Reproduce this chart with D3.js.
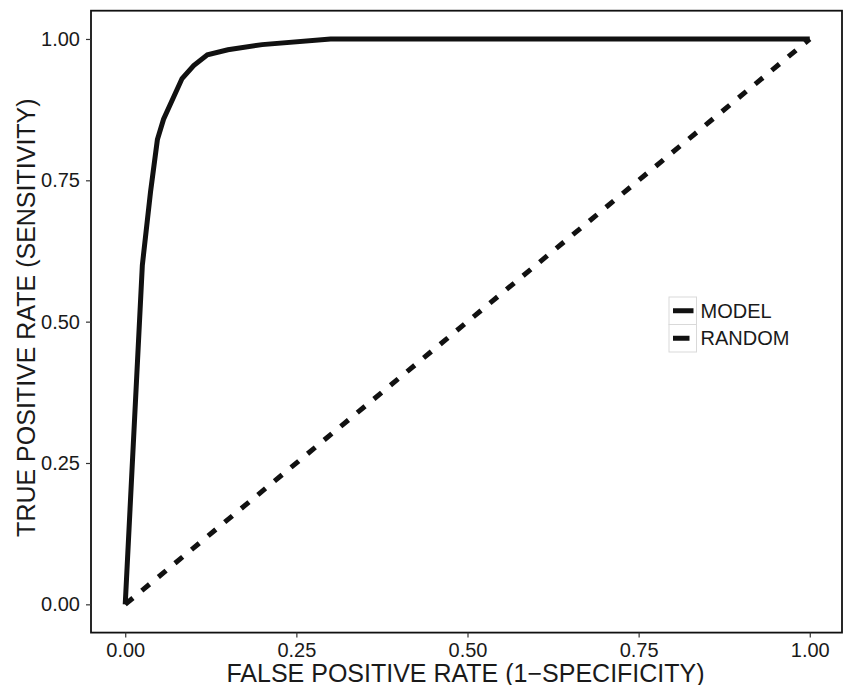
<!DOCTYPE html>
<html>
<head>
<meta charset="utf-8">
<script src="https://cdn.jsdelivr.net/npm/d3@7"></script>
<style>
  body { margin: 0; background: #fff; }
  text { font-family: "Liberation Sans", Arial, Helvetica, sans-serif; }
</style>
</head>
<body>
<div class="chart"></div>
<script>
// ROC curve
const modelFpr = [0, 0.025, 0.037, 0.047, 0.056, 0.083, 0.1, 0.12, 0.15, 0.2, 0.3, 1];
const modelTpr = [0, 0.6, 0.73, 0.822, 0.858, 0.93, 0.953, 0.972, 0.981, 0.99, 1, 1];
const randomFpr = [0, 1];
const randomTpr = [0, 1];
const tickValues = [0, 0.25, 0.5, 0.75, 1];
const seriesNames = ["MODEL", "RANDOM"];

const width = 843, height = 685;
const panel = { left: 91, right: 844, top: 10.7, bottom: 632.6 };

const svg = d3.select(".chart")
  .append("svg")
  .attr("width", width)
  .attr("height", height);

const x = d3.scaleLinear().domain([-0.05, 1.05]).range([panel.left, panel.right]);
const y = d3.scaleLinear().domain([-0.05, 1.05]).range([panel.bottom, panel.top]);

const line = d3.line().x(d => x(d[0])).y(d => y(d[1]));

const model = modelFpr.map((v, i) => [v, modelTpr[i]]);
const random = randomFpr.map((v, i) => [v, randomTpr[i]]);

// lines
svg.append("path")
  .datum(random)
  .attr("d", line)
  .attr("fill", "none")
  .attr("stroke", "#111")
  .attr("stroke-width", 5)
  .attr("stroke-dasharray", "10,11.5");

svg.append("path")
  .datum(model)
  .attr("d", line)
  .attr("fill", "none")
  .attr("stroke", "#111")
  .attr("stroke-width", 5)
  .attr("stroke-linejoin", "miter");

// panel border
svg.append("rect")
  .attr("x", panel.left)
  .attr("y", panel.top)
  .attr("width", 842 - panel.left)
  .attr("height", panel.bottom - panel.top)
  .attr("fill", "none")
  .attr("stroke", "#111")
  .attr("stroke-width", 1.8);

// axes
const fmt = d3.format(".2f");

const xAxis = svg.append("g")
  .attr("transform", `translate(0,${panel.bottom})`)
  .call(d3.axisBottom(x).tickValues(tickValues).tickFormat(fmt).tickSize(5).tickPadding(6));

const yAxis = svg.append("g")
  .attr("transform", `translate(${panel.left},0)`)
  .call(d3.axisLeft(y).tickValues(tickValues).tickFormat(fmt).tickSize(5).tickPadding(6));

[xAxis, yAxis].forEach(a => {
  a.select(".domain").remove();
  a.selectAll(".tick line").attr("stroke", "#333").attr("stroke-width", 1.2);
  a.selectAll(".tick text")
    .attr("fill", "#1a1a1a")
    .style("font-size", "20px")
    .style("font-family", '"Liberation Sans", Arial, sans-serif');
});
xAxis.selectAll(".tick text").attr("dy", null).attr("y", 0)
  .attr("dominant-baseline", "auto")
  .attr("transform", "translate(0,24)");

// axis titles
svg.append("text")
  .attr("x", (panel.left + panel.right) / 2 - 2)
  .attr("y", 681.5)
  .attr("text-anchor", "middle")
  .style("font-size", "25px")
  .attr("fill", "#1a1a1a")
  .text("FALSE POSITIVE RATE (1\u2212SPECIFICITY)");

svg.append("text")
  .attr("transform", `translate(35,${(panel.top + panel.bottom) / 2 - 4}) rotate(-90)`)
  .attr("text-anchor", "middle")
  .style("font-size", "25px")
  .attr("fill", "#1a1a1a")
  .text("TRUE POSITIVE RATE (SENSITIVITY)");

// legend
const legend = svg.append("g").attr("transform", "translate(669,297)");
const keySize = 27.5;

seriesNames.forEach((name, i) => {
  const row = legend.append("g").attr("transform", `translate(0,${i * keySize})`);
  row.append("rect")
    .attr("width", keySize)
    .attr("height", keySize)
    .attr("fill", "#fff")
    .attr("stroke", "#d9d9d9")
    .attr("stroke-width", 1);
  row.append("line")
    .attr("x1", 4).attr("x2", keySize - 3)
    .attr("y1", keySize / 2).attr("y2", keySize / 2)
    .attr("stroke", "#111")
    .attr("stroke-width", 5)
    .attr("stroke-dasharray", name === "RANDOM" ? "16.5,10" : null);
  row.append("text")
    .attr("x", keySize + 4)
    .attr("y", keySize / 2 + 7.2)
    .style("font-size", "20px")
    .attr("fill", "#1a1a1a")
    .text(name);
});
</script>
</body>
</html>
